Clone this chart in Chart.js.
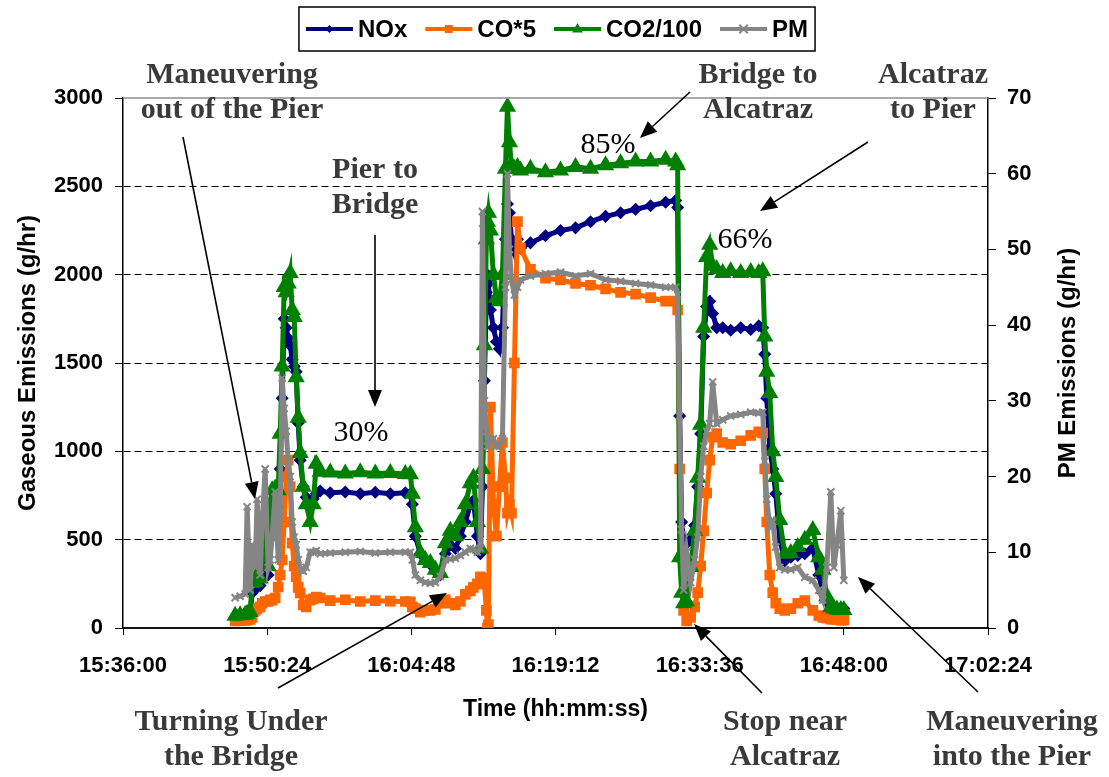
<!DOCTYPE html>
<html>
<head>
<meta charset="utf-8">
<script src="https://cdn.jsdelivr.net/npm/chart.js"></script>
<style>
  html, body { margin: 0; padding: 0; background: #fff; }
  #wrap { width: 1109px; height: 777px; }
</style>
</head>
<body>
<div id="wrap"><canvas id="emissions" width="1109" height="777"></canvas></div>
<script>
// sample times (hh:mm:ss) and the four series
const times = [
  '15:47:12','15:47:42','15:48:12','15:48:24','15:48:42','15:48:54','15:49:12','15:49:24','15:49:42','15:49:54',
  '15:50:12','15:50:30','15:50:42','15:50:54','15:51:12','15:51:30','15:51:42','15:51:54','15:52:06','15:52:18',
  '15:52:30','15:52:42','15:52:54','15:53:06','15:53:18','15:53:30','15:53:42','15:54:00','15:54:18','15:54:42',
  '15:55:00','15:55:18','15:55:42','15:56:42','15:58:12','15:59:42','16:01:12','16:02:42','16:04:12','16:04:42',
  '16:04:54','16:05:12','16:05:42','16:06:12','16:06:42','16:07:12','16:07:42','16:08:12','16:08:42','16:09:12',
  '16:09:42','16:10:12','16:10:42','16:11:00','16:11:24','16:11:42','16:11:54','16:12:06','16:12:18','16:12:24',
  '16:12:30','16:12:42','16:13:00','16:13:18','16:13:36','16:13:54','16:14:12','16:14:24','16:14:36','16:14:48',
  '16:15:06','16:15:24','16:15:42','16:16:42','16:18:12','16:19:42','16:21:12','16:22:42','16:24:12','16:25:42',
  '16:27:12','16:28:42','16:30:12','16:31:12','16:31:24','16:31:36','16:31:48','16:32:00','16:32:18','16:32:42',
  '16:33:06','16:33:24','16:33:42','16:34:00','16:34:18','16:34:36','16:34:54','16:35:18','16:35:54','16:36:42',
  '16:37:42','16:38:42','16:39:30','16:39:54','16:40:06','16:40:18','16:40:36','16:40:54','16:41:12','16:41:36',
  '16:42:06','16:42:42','16:43:24','16:44:06','16:44:54','16:45:30','16:45:54','16:46:18','16:46:42','16:47:00',
  '16:47:18','16:47:42','16:48:00'
];
const nox = [
  60, 60, 62, 70, 70, 200, 220, 260, 240, 330,
  420, 300, 560, 620, 650, 685, 900, 1300, 1750, 1700,
  1640, 1600, 1520, 1480, 1450, 1160, 950, 800, 740, 700,
  730, 760, 775, 765, 770, 760, 768, 760, 765, 760,
  700, 520, 420, 380, 360, 320, 300, 420, 470, 450,
  520, 600, 700, 720, 520, 420, 800, 1400, 1900, 2000,
  1950, 1800, 1700, 1620, 1580, 1700, 2200, 2400, 2350, 2200,
  2130, 2200, 2150, 2180, 2220, 2250, 2265, 2300, 2330, 2350,
  2370, 2390, 2410, 2420, 2380, 1200, 600, 500, 480, 500,
  580, 800, 1100, 1650, 1820, 1850, 1780, 1700, 1700, 1685,
  1700, 1690, 1710, 1700, 1550, 1300, 1020, 900, 760, 500,
  380, 400, 410, 420, 450, 300, 200, 150, 120, 110,
  110, 110, 110
];
const co5 = [
  40, 42, 45, 45, 48, 60, 100, 110, 119, 140,
  150, 150, 160, 158, 170, 232, 300, 385, 600, 855,
  950, 800, 480, 350, 290, 230, 198, 130, 119, 158,
  165, 175, 170, 155, 160, 150, 155, 152, 150, 148,
  120, 110, 90, 100, 100, 105, 140, 160, 140, 130,
  150, 190, 210, 230, 250, 290, 280, 250, 100, 0,
  20, 1250, 700, 520, 800, 1050, 850, 650, 700, 650,
  1500, 2300, 2150, 2030, 1980, 1970, 1950, 1940, 1920, 1900,
  1890, 1870, 1850, 1850, 1800, 900, 400, 100, 40, 60,
  120, 200, 350, 550, 764, 950, 1080, 1100, 1050, 1040,
  1060, 1090, 1110, 1104, 900, 600, 300, 200, 140, 110,
  100, 110, 140, 155, 100, 70, 60, 55, 50, 50,
  48, 45, 45
];
const co2 = [
  70, 72, 75, 80, 90, 255, 260, 300, 280, 400,
  520, 350, 700, 780, 790, 780, 1100, 1480, 1930, 1900,
  1950, 2010, 1800, 1760, 1420, 1190, 990, 800, 700, 600,
  700, 930, 885, 880, 875, 882, 875, 878, 872, 870,
  760, 570, 425, 385, 368, 330, 311, 480, 550, 520,
  600, 700, 820, 850, 600, 450, 900, 1600, 2200, 2300,
  2350, 2250, 2000, 1870, 1850, 2000, 2600, 2950, 2750, 2620,
  2600, 2610, 2590, 2600, 2580, 2590, 2610, 2600, 2620, 2630,
  2640, 2640, 2650, 2640, 2620, 400, 200, 140, 150, 345,
  550, 850, 1150, 1700, 2100, 2170, 2050, 2030, 2010, 2020,
  2010, 2015, 2010, 2020, 1650, 1450, 1330, 1000, 855, 611,
  420, 425, 458, 500, 555, 400, 330, 180, 119, 110,
  105, 102, 102
];
const pm = [
  4, 4.2, 4.5, 16, 5, 11, 8, 17, 7, 14,
  21, 8, 9, 12, 18, 9, 15, 33, 29, 26,
  22, 20, 14, 12, 11, 9, 7.7, 7.5, 8, 10,
  10, 10.2, 9.8, 9.9, 10, 10.1, 9.9, 10, 10, 10,
  9, 7, 6.3, 6, 5.9, 6, 6.8, 9, 9.1, 9.2,
  9.6, 10, 10.5, 10.4, 10, 10.5, 55, 30, 26, 24,
  24, 25, 25, 24, 24, 25, 45, 60, 50, 46,
  44, 45, 46, 46.5, 46.8, 47, 46.5, 46.8, 46, 45.8,
  45.5, 45.3, 45, 45, 44, 28, 13, 5, 10, 6,
  9, 12, 20, 24, 26, 27, 32.5, 27, 27.5, 28,
  28.2, 28.5, 28.4, 28.5, 22, 17, 13.4, 14, 10.7, 8,
  7.7, 7.7, 8, 6.7, 6.3, 5, 3.7, 8, 18, 8,
  11, 15.5, 6.3
];

const xTickLabels = ['15:36:00', '15:50:24', '16:04:48', '16:19:12', '16:33:36', '16:48:00', '17:02:24'];
const gasTicks = [0, 500, 1000, 1500, 2000, 2500, 3000];
const pmTicks = [0, 10, 20, 30, 40, 50, 60, 70];

const toSec = (s) => {
  const [h, m, ss] = s.split(':').map(Number);
  return h * 3600 + m * 60 + ss;
};
const toClock = (v) => {
  const h = Math.floor(v / 3600), m = Math.floor((v % 3600) / 60), s = Math.round(v % 60);
  return [h, m, s].map(n => String(n).padStart(2, '0')).join(':');
};
const pts = (vals) => vals.map((v, i) => ({ x: toSec(times[i]), y: v }));

const sansBold = (size) => ({ family: '"Liberation Sans", Arial, sans-serif', size: size, weight: 'bold' });

// text notes on the plot
const notes = [
  { lines: ['Maneuvering', 'out of the Pier'], x: 232, y: 75 },
  { lines: ['Pier to', 'Bridge'], x: 375, y: 170 },
  { lines: ['Bridge to', 'Alcatraz'], x: 758, y: 75 },
  { lines: ['Alcatraz', 'to Pier'], x: 933, y: 75 },
  { lines: ['Turning Under', 'the Bridge'], x: 231, y: 722 },
  { lines: ['Stop near', 'Alcatraz'], x: 785, y: 722 },
  { lines: ['Maneuvering', 'into the Pier'], x: 1012, y: 722 }
];
const loads = [
  { text: '30%', x: 361, y: 433 },
  { text: '85%', x: 608, y: 145 },
  { text: '66%', x: 745, y: 240 }
];
const arrows = [
  [183, 137, 255, 499], [375, 235, 375, 407], [690, 92, 640, 138], [868, 142, 760, 211],
  [278, 688, 447, 593], [762, 693, 694, 624], [978, 692, 858, 577]
];

function drawMark(ctx, style, x, y, r) {
  ctx.beginPath();
  if (style === 'rectRot') {
    ctx.moveTo(x, y - r); ctx.lineTo(x + r, y); ctx.lineTo(x, y + r); ctx.lineTo(x - r, y);
    ctx.closePath(); ctx.fill();
  } else if (style === 'rect') {
    ctx.fillRect(x - r * 0.8, y - r * 0.8, r * 1.6, r * 1.6);
  } else if (style === 'triangle') {
    ctx.moveTo(x, y - r); ctx.lineTo(x + r * 0.9, y + r * 0.6); ctx.lineTo(x - r * 0.9, y + r * 0.6);
    ctx.closePath(); ctx.fill();
  } else {
    const d = r * 0.7;
    ctx.moveTo(x - d, y - d); ctx.lineTo(x + d, y + d);
    ctx.moveTo(x + d, y - d); ctx.lineTo(x - d, y + d);
    ctx.stroke();
  }
}

function arrow(ctx, x1, y1, x2, y2) {
  const a = Math.atan2(y2 - y1, x2 - x1), len = 17, w = 7;
  const bx = x2 - len * Math.cos(a), by = y2 - len * Math.sin(a);
  ctx.beginPath();
  ctx.moveTo(x1, y1); ctx.lineTo(bx, by);
  ctx.stroke();
  ctx.beginPath();
  ctx.moveTo(x2, y2);
  ctx.lineTo(bx + w * Math.sin(a), by - w * Math.cos(a));
  ctx.lineTo(bx - w * Math.sin(a), by + w * Math.cos(a));
  ctx.closePath();
  ctx.fill();
}

const decor = {
  id: 'decor',
  afterDraw(chart) {
    const ctx = chart.ctx, area = chart.chartArea;
    ctx.save();

    // plot frame top
    ctx.strokeStyle = '#8c8c8c';
    ctx.lineWidth = 1.5;
    ctx.beginPath();
    ctx.moveTo(area.left, area.top); ctx.lineTo(area.right, area.top);
    ctx.stroke();

    // right axis title, reading bottom to top like the left one
    ctx.save();
    ctx.translate(1068, (area.top + area.bottom) / 2);
    ctx.rotate(-Math.PI / 2);
    ctx.fillStyle = '#000';
    ctx.textAlign = 'center';
    ctx.textBaseline = 'middle';
    ctx.font = 'bold 24px "Liberation Sans", Arial, sans-serif';
    ctx.fillText('PM Emissions (g/hr)', 0, 0);
    ctx.restore();

    // boxed legend with line + marker samples
    ctx.font = 'bold 24px "Liberation Sans", Arial, sans-serif';
    ctx.textBaseline = 'middle';
    ctx.textAlign = 'left';
    const sets = chart.data.datasets;
    const lineLen = 47, gapIn = 5, gapOut = 18;
    const widths = sets.map(d => ctx.measureText(d.label).width);
    const total = widths.reduce((s, w) => s + lineLen + gapIn + w, 0) + gapOut * (sets.length - 1);
    const cx = 557, ly = 29;
    const bx = cx - total / 2 - 7;
    ctx.fillStyle = '#fff';
    ctx.fillRect(bx, 7, total + 14, 44);
    ctx.strokeStyle = '#000';
    ctx.lineWidth = 1.5;
    ctx.strokeRect(bx, 7, total + 14, 44);
    let x = cx - total / 2;
    sets.forEach((d, i) => {
      ctx.strokeStyle = d.borderColor;
      ctx.fillStyle = d.borderColor;
      ctx.lineWidth = 4;
      ctx.beginPath();
      ctx.moveTo(x, ly); ctx.lineTo(x + lineLen, ly);
      ctx.stroke();
      ctx.lineWidth = 2;
      drawMark(ctx, d.pointStyle, x + lineLen / 2, ly, d.pointRadius + 1);
      ctx.fillStyle = '#000';
      ctx.fillText(d.label, x + lineLen + gapIn, ly + 1);
      x += lineLen + gapIn + widths[i] + gapOut;
    });

    // journey notes
    ctx.fillStyle = '#3a3a3a';
    ctx.textAlign = 'center';
    ctx.font = 'bold 30px "Liberation Serif", "Times New Roman", serif';
    notes.forEach(n => n.lines.forEach((t, k) => ctx.fillText(t, n.x, n.y + k * 35)));

    ctx.fillStyle = '#000';
    ctx.font = '30px "Liberation Serif", "Times New Roman", serif';
    loads.forEach(l => ctx.fillText(l.text, l.x, l.y));

    ctx.strokeStyle = '#000';
    ctx.fillStyle = '#000';
    ctx.lineWidth = 1.6;
    arrows.forEach(a => arrow(ctx, a[0], a[1], a[2], a[3]));
    ctx.restore();
  }
};

const ctx1 = document.getElementById('emissions').getContext('2d');
const chart1 = new Chart(ctx1, {
  type: 'line',
  data: {
    datasets: [{
      label: 'NOx',
      data: pts(nox),
      yAxisID: 'y',
      borderColor: '#000080',
      backgroundColor: '#000080',
      pointStyle: 'rectRot',
      pointRadius: 3,
      borderWidth: 5,
      order: 4
    }, {
      label: 'CO*5',
      data: pts(co5),
      yAxisID: 'y',
      borderColor: '#ff6600',
      backgroundColor: '#ff6600',
      pointStyle: 'rect',
      pointRadius: 4,
      borderWidth: 5,
      order: 3
    }, {
      label: 'CO2/100',
      data: pts(co2),
      yAxisID: 'y',
      borderColor: '#008000',
      backgroundColor: '#008000',
      pointStyle: 'triangle',
      pointRadius: 5,
      borderWidth: 5,
      order: 2
    }, {
      label: 'PM',
      data: pts(pm),
      yAxisID: 'y1',
      borderColor: '#858585',
      backgroundColor: '#858585',
      pointStyle: 'crossRot',
      pointRadius: 5,
      pointBorderWidth: 2,
      borderWidth: 5,
      order: 1
    }]
  },
  options: {
    responsive: false,
    animation: false,
    events: [],
    layout: { padding: { top: 98, left: 10, right: 10, bottom: 49 } },
    elements: { line: { tension: 0 } },
    plugins: {
      legend: { display: false },
      tooltip: { enabled: false }
    },
    scales: {
      x: {
        type: 'linear',
        min: toSec(xTickLabels[0]),
        max: toSec(xTickLabels[xTickLabels.length - 1]),
        afterFit: (s) => { s.height = 100; },
        ticks: {
          stepSize: toSec(xTickLabels[1]) - toSec(xTickLabels[0]),
          callback: (v) => toClock(v),
          autoSkip: false,
          maxRotation: 0,
          padding: 18,
          color: '#000',
          font: sansBold(22)
        },
        grid: { drawOnChartArea: false, tickLength: 7, tickColor: '#000' },
        border: { color: '#111', width: 2 },
        title: {
          display: true,
          text: 'Time (hh:mm:ss)',
          color: '#000',
          font: sansBold(23),
          padding: { bottom: 5 }
        }
      },
      y: {
        position: 'left',
        min: gasTicks[0],
        max: gasTicks[gasTicks.length - 1],
        afterFit: (s) => { s.width = 113; },
        ticks: {
          stepSize: gasTicks[1] - gasTicks[0],
          callback: (v) => String(v),
          padding: 12,
          color: '#000',
          font: sansBold(22)
        },
        grid: {
          color: (c) => (c.tick && (c.tick.value === gasTicks[0] || c.tick.value === gasTicks[gasTicks.length - 1])) ? 'rgba(0,0,0,0)' : '#000',
          tickColor: '#000',
          tickLength: 8,
          lineWidth: 1
        },
        border: { color: '#000', width: 1.5, dash: [7, 4] },
        title: {
          display: true,
          text: 'Gaseous Emissions (g/hr)',
          color: '#000',
          font: sansBold(24),
          padding: { top: 4 }
        }
      },
      y1: {
        position: 'right',
        min: pmTicks[0],
        max: pmTicks[pmTicks.length - 1],
        afterFit: (s) => { s.width = 111; },
        ticks: {
          stepSize: pmTicks[1] - pmTicks[0],
          callback: (v) => String(v),
          padding: 11,
          color: '#000',
          font: sansBold(22)
        },
        grid: { drawOnChartArea: false, tickColor: '#000', tickLength: 8 },
        border: { color: '#000', width: 1.5 }
      }
    }
  },
  plugins: [decor]
});
</script>
</body>
</html>
